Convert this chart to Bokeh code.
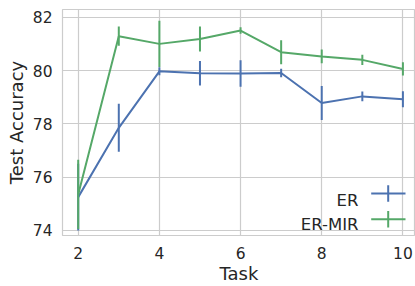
from bokeh.plotting import figure
from bokeh.models import Range1d, Label, Arrow, FixedTicker
from bokeh.embed import file_html
from bokeh.resources import INLINE

tasks = [2, 3, 4, 5, 6, 7, 8, 9, 10]
er_mean = [75.25, 77.85, 79.97, 79.90, 79.89, 79.91, 78.78, 79.03, 78.92]
er_err = [1.25, 0.90, 0.15, 0.46, 0.50, 0.16, 0.64, 0.18, 0.30]
mir_mean = [75.35, 81.29, 81.00, 81.18, 81.50, 80.69, 80.53, 80.40, 80.06]
mir_err = [1.30, 0.36, 0.87, 0.47, 0.12, 0.45, 0.26, 0.19, 0.25]
x_ticks = [2, 4, 6, 8, 10]
y_ticks = [74, 76, 78, 80, 82]
x_label = "Task"
y_label = "Test Accuracy"
legend_names = ["ER", "ER-MIR"]

BLUE = "#4c72b0"
GREEN = "#55a868"
TXT = "#262626"
FONT = "DejaVu Sans"

p = figure(width=415, height=286, output_backend="svg", toolbar_location=None,
           x_range=Range1d(1.613, 10.31), y_range=Range1d(73.81, 82.29),
           min_border_top=9, min_border_right=0, min_border_left=62, min_border_bottom=10)
p.background_fill_color = "white"
p.border_fill_color = "white"
p.outline_line_color = "#cccccc"
p.outline_line_width = 1.2

for ax in (p.xaxis, p.yaxis):
    ax.axis_line_color = None
    ax.major_tick_line_color = None
    ax.minor_tick_line_color = None
    ax.major_tick_out = 0
    ax.major_tick_in = 0
    ax.minor_tick_out = 0
    ax.minor_tick_in = 0
    ax.major_label_text_font = FONT
    ax.major_label_text_font_size = "15.5px"
    ax.major_label_text_color = TXT
    ax.axis_label_text_font = FONT
    ax.axis_label_text_font_size = "18px"
    ax.axis_label_text_font_style = "normal"
    ax.axis_label_text_color = TXT
p.xaxis.ticker = FixedTicker(ticks=x_ticks)
p.yaxis.ticker = FixedTicker(ticks=y_ticks)
p.xaxis.axis_label = x_label
p.yaxis.axis_label = y_label
p.xaxis.major_label_standoff = 11
p.yaxis.major_label_standoff = 10
p.xaxis.axis_label_standoff = 1
p.yaxis.axis_label_standoff = 3
p.grid.grid_line_color = "#cccccc"
p.grid.grid_line_width = 1.2

for mean, err, col in ((er_mean, er_err, BLUE), (mir_mean, mir_err, GREEN)):
    lo = [m - e for m, e in zip(mean, err)]
    hi = [m + e for m, e in zip(mean, err)]
    p.line(tasks, mean, line_color=col, line_width=2)
    p.segment(x0=tasks, y0=lo, x1=tasks, y1=hi, line_color=col, line_width=2)

# custom legend (text on the left, glyph on the right), in screen units from the frame's bottom-left
legend_cols = [BLUE, GREEN]
line_ys = [42.0, 16.3]
text_ys = [34.6, 11.0]
for name, col, ly, ty in zip(legend_names, legend_cols, line_ys, text_ys):
    p.add_layout(Label(x=296, y=ty, x_units="screen", y_units="screen", text=name,
                       text_align="right", text_baseline="alphabetic", text_font=FONT,
                       text_font_size="16.5px", text_color=TXT))
    p.add_layout(Arrow(end=None, x_start=308.7, y_start=ly, x_end=343, y_end=ly,
                       start_units="screen", end_units="screen", line_color=col, line_width=2))
    p.add_layout(Arrow(end=None, x_start=325.7, y_start=ly - 8.3, x_end=325.7, y_end=ly + 8.3,
                       start_units="screen", end_units="screen", line_color=col, line_width=2))

open("out.html", "w").write(file_html(p, INLINE))
